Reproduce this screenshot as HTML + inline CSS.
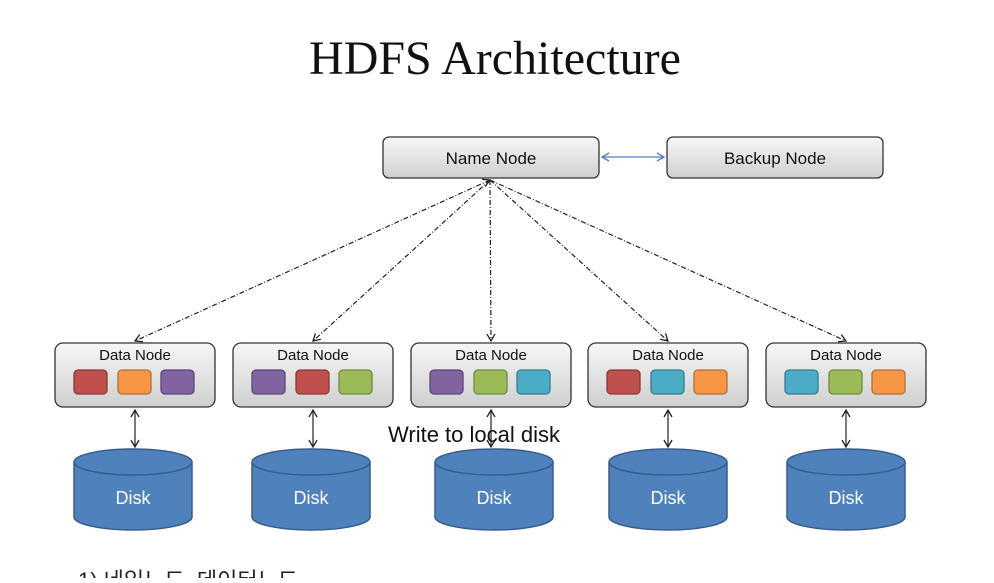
<!DOCTYPE html>
<html><head><meta charset="utf-8"><style>
body{margin:0;width:994px;height:578px;background:#fff;overflow:hidden}
</style></head><body>
<svg width="994" height="578" xmlns="http://www.w3.org/2000/svg">
<defs>
<linearGradient id="g" x1="0" y1="0" x2="0" y2="1"><stop offset="0" stop-color="#f7f7f7"/><stop offset="1" stop-color="#cfcfcf"/></linearGradient>
<marker id="a" markerWidth="10" markerHeight="10" refX="8" refY="5" orient="auto-start-reverse" markerUnits="userSpaceOnUse"><path d="M1,1 L8,5 L1,9" fill="none" stroke="#222" stroke-width="1.3"/></marker>
<marker id="b" markerWidth="10" markerHeight="10" refX="8" refY="5" orient="auto-start-reverse" markerUnits="userSpaceOnUse"><path d="M1,1 L8,5 L1,9" fill="none" stroke="#4a7fc0" stroke-width="1.3"/></marker>
</defs>
<text x="495" y="74" text-anchor="middle" font-family="Liberation Serif,serif" font-size="48" fill="#111">HDFS Architecture</text>
<g font-family="Liberation Sans,sans-serif" fill="#111">
<rect x="383" y="137" width="216" height="41" rx="6" fill="url(#g)" stroke="#333" stroke-width="1.3"/>
<text x="491" y="164" text-anchor="middle" font-size="17">Name Node</text>
<rect x="667" y="137" width="216" height="41" rx="6" fill="url(#g)" stroke="#333" stroke-width="1.3"/>
<text x="775" y="164" text-anchor="middle" font-size="17">Backup Node</text>
</g>
<line x1="602" y1="157" x2="664" y2="157" stroke="#4a7fc0" stroke-width="1.2" marker-start="url(#b)" marker-end="url(#b)"/>
<g stroke="#222" stroke-width="1.2" stroke-dasharray="5,2,1,2" fill="none">
<line x1="490" y1="180" x2="135" y2="341" marker-start="url(#a)" marker-end="url(#a)"/>
<line x1="490" y1="180" x2="313" y2="341" marker-end="url(#a)"/>
<line x1="490" y1="180" x2="491" y2="341" marker-end="url(#a)"/>
<line x1="490" y1="180" x2="668" y2="341" marker-end="url(#a)"/>
<line x1="490" y1="180" x2="846" y2="341" marker-end="url(#a)"/>
</g>
<g font-family="Liberation Sans,sans-serif">
<!-- data nodes -->
<g id="dn">
</g>
</g>
<g font-family="Liberation Sans,sans-serif" font-size="15" fill="#111" text-anchor="middle">
<rect x="55" y="343" width="160" height="64" rx="8" fill="url(#g)" stroke="#333" stroke-width="1.3"/><text x="135" y="360">Data Node</text>
<rect x="233" y="343" width="160" height="64" rx="8" fill="url(#g)" stroke="#333" stroke-width="1.3"/><text x="313" y="360">Data Node</text>
<rect x="411" y="343" width="160" height="64" rx="8" fill="url(#g)" stroke="#333" stroke-width="1.3"/><text x="491" y="360">Data Node</text>
<rect x="588" y="343" width="160" height="64" rx="8" fill="url(#g)" stroke="#333" stroke-width="1.3"/><text x="668" y="360">Data Node</text>
<rect x="766" y="343" width="160" height="64" rx="8" fill="url(#g)" stroke="#333" stroke-width="1.3"/><text x="846" y="360">Data Node</text>
</g>
<g stroke-width="1.3">
<rect x="74" y="370" width="33" height="24" rx="4" fill="#c0504d" stroke="#8c3836"/>
<rect x="118" y="370" width="33" height="24" rx="4" fill="#f79646" stroke="#b66d31"/>
<rect x="161" y="370" width="33" height="24" rx="4" fill="#8064a2" stroke="#5c4776"/>
<rect x="252" y="370" width="33" height="24" rx="4" fill="#8064a2" stroke="#5c4776"/>
<rect x="296" y="370" width="33" height="24" rx="4" fill="#c0504d" stroke="#8c3836"/>
<rect x="339" y="370" width="33" height="24" rx="4" fill="#9bbb59" stroke="#71893f"/>
<rect x="430" y="370" width="33" height="24" rx="4" fill="#8064a2" stroke="#5c4776"/>
<rect x="474" y="370" width="33" height="24" rx="4" fill="#9bbb59" stroke="#71893f"/>
<rect x="517" y="370" width="33" height="24" rx="4" fill="#4bacc6" stroke="#357d91"/>
<rect x="607" y="370" width="33" height="24" rx="4" fill="#c0504d" stroke="#8c3836"/>
<rect x="651" y="370" width="33" height="24" rx="4" fill="#4bacc6" stroke="#357d91"/>
<rect x="694" y="370" width="33" height="24" rx="4" fill="#f79646" stroke="#b66d31"/>
<rect x="785" y="370" width="33" height="24" rx="4" fill="#4bacc6" stroke="#357d91"/>
<rect x="829" y="370" width="33" height="24" rx="4" fill="#9bbb59" stroke="#71893f"/>
<rect x="872" y="370" width="33" height="24" rx="4" fill="#f79646" stroke="#b66d31"/>
</g>
<g stroke="#222" stroke-width="1.2">
<line x1="135" y1="410" x2="135" y2="447" marker-start="url(#a)" marker-end="url(#a)"/>
<line x1="313" y1="410" x2="313" y2="447" marker-start="url(#a)" marker-end="url(#a)"/>
<line x1="491" y1="410" x2="491" y2="447" marker-start="url(#a)" marker-end="url(#a)"/>
<line x1="668" y1="410" x2="668" y2="447" marker-start="url(#a)" marker-end="url(#a)"/>
<line x1="846" y1="410" x2="846" y2="447" marker-start="url(#a)" marker-end="url(#a)"/>
</g>
<g fill="#4f81bd" stroke="#385d8a" stroke-width="1.5" font-family="Liberation Sans,sans-serif" font-size="18">
<path d="M74,462 L74,517 A59,13 0 0 0 192,517 L192,462"/><ellipse cx="133" cy="462" rx="59" ry="13"/>
<path d="M252,462 L252,517 A59,13 0 0 0 370,517 L370,462"/><ellipse cx="311" cy="462" rx="59" ry="13"/>
<path d="M435,462 L435,517 A59,13 0 0 0 553,517 L553,462"/><ellipse cx="494" cy="462" rx="59" ry="13"/>
<path d="M609,462 L609,517 A59,13 0 0 0 727,517 L727,462"/><ellipse cx="668" cy="462" rx="59" ry="13"/>
<path d="M787,462 L787,517 A59,13 0 0 0 905,517 L905,462"/><ellipse cx="846" cy="462" rx="59" ry="13"/>
<g fill="#fff" stroke="none" text-anchor="middle">
<text x="133" y="504">Disk</text><text x="311" y="504">Disk</text><text x="494" y="504">Disk</text><text x="668" y="504">Disk</text><text x="846" y="504">Disk</text>
</g>
</g>
<text x="388" y="442" font-family="Liberation Sans,sans-serif" font-size="22" fill="#111">Write to local disk</text>
<text x="78" y="588" font-family="Liberation Sans,'Noto Sans CJK KR',sans-serif" font-size="22" fill="#222">1) 네임노드, 데이터노드</text>
</svg>
</body></html>
